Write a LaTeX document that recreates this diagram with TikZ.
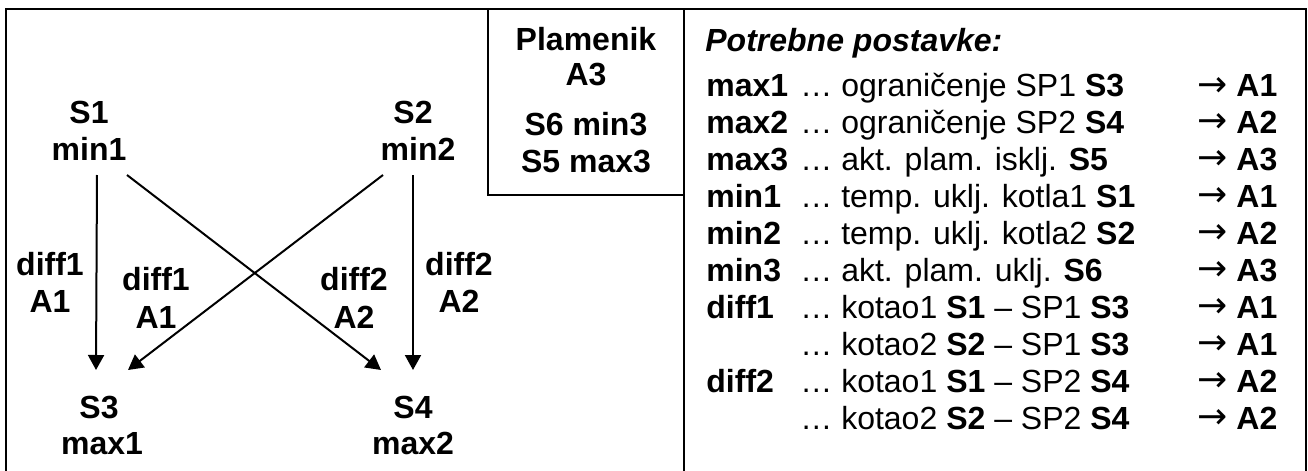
\documentclass[tikz,border=0pt]{standalone}
\usepackage{fontspec}
\setmainfont{Liberation Sans}
\newfontfamily\arrowfont{DejaVu Sans}
\usetikzlibrary{arrows.meta,calc}

\tikzset{
  txt/.style={inner sep=0pt, anchor=base, font=\fontsize{16pt}{18.5pt}\selectfont},
  lbl/.style={txt, font=\fontsize{16pt}{18.5pt}\selectfont\bfseries},
  row/.style={txt, anchor=base west},
  arr/.style={-{Triangle[length=7.5pt,width=8pt]}, line width=1pt},
  frame/.style={line width=1pt}
}

\begin{document}
\begin{tikzpicture}[x=0.5pt,y=-0.5pt]
  \useasboundingbox (0,0) rectangle (1308,471);
  % frames
  \draw[frame] (6,471) -- (6,9) -- (1306,9) -- (1306,471);
  \draw[frame] (684,9) -- (684,471);
  \draw[frame] (488,9) -- (488,195) -- (684,195);

  % sensors
  \node[lbl] (s1)   at (89,123)  {S1};
  \node[lbl] (min1) at (89,160)  {min1};
  \node[lbl] (s2)   at (413,123) {S2};
  \node[lbl] (min2) at (418,160) {min2};
  \node[lbl] (s3)   at (99,418)  {S3};
  \node[lbl] (max1) at (102,454) {max1};
  \node[lbl] (s4)   at (413,418) {S4};
  \node[lbl] (max2) at (413,454) {max2};

  % connectors
  \draw[arr] ($(min1.base)+(8,15)$) -- ($(s3.base)+(-3,-48)$);
  \draw[arr] ($(min1.base)+(38,15)$) -- ($(s4.base)+(-32,-48)$);
  \draw[arr] ($(min2.base)+(-35,15)$) -- ($(s3.base)+(29,-48)$);
  \draw[arr] ($(min2.base)+(-5,15)$) -- ($(s4.base)+(0,-48)$);

  % diff labels
  \node[lbl] (d1a) at (50,275)  {diff1};
  \node[lbl] (a1a) at (50,312)  {A1};
  \node[lbl] (d1b) at (156,290) {diff1};
  \node[lbl] (a1b) at (156,328) {A1};
  \node[lbl] (d2b) at (354,290) {diff2};
  \node[lbl] (a2b) at (354,328) {A2};
  \node[lbl] (d2a) at (459,275) {diff2};
  \node[lbl] (a2a) at (459,312) {A2};

  % burner
  \node[lbl] (plam) at (586,50)  {Plamenik};
  \node[lbl] (a3)   at (586,85)  {A3};
  \node[lbl] (s6)   at (586,135) {S6 min3};
  \node[lbl] (s5)   at (586,172) {S5 max3};

  % settings list
  \node[row, font=\fontsize{16pt}{18.5pt}\selectfont\bfseries\itshape] (title) at (705,51) {Potrebne postavke:};
  \foreach \key/\desc/\out [count=\i from 0] in {
      max1/ograničenje SP1 \textbf{S3}/A1,
      max2/ograničenje SP2 \textbf{S4}/A2,
      max3/akt. plam. isklj. \textbf{S5}/A3,
      min1/temp. uklj. kotla1 \textbf{S1}/A1,
      min2/temp. uklj. kotla2 \textbf{S2}/A2,
      min3/akt. plam. uklj. \textbf{S6}/A3,
      diff1/kotao1 \textbf{S1} – SP1 \textbf{S3}/A1,
      /kotao2 \textbf{S2} – SP1 \textbf{S3}/A1,
      diff2/kotao1 \textbf{S1} – SP2 \textbf{S4}/A2,
      /kotao2 \textbf{S2} – SP2 \textbf{S4}/A2}{
    \node[row, font=\fontsize{16pt}{18.5pt}\selectfont\bfseries] (key\i) at (706,97+36.9*\i) {\key};
    \node[row] (desc\i) at (800,97+36.9*\i) {… \desc};
    \node[row, font=\fontsize{18pt}{18.5pt}\arrowfont] (to\i) at (1197,96+36.9*\i) {→};
    \node[row, font=\fontsize{16pt}{18.5pt}\selectfont\bfseries] (out\i) at (1236,97+36.9*\i) {\out};
  }
\end{tikzpicture}
\end{document}
